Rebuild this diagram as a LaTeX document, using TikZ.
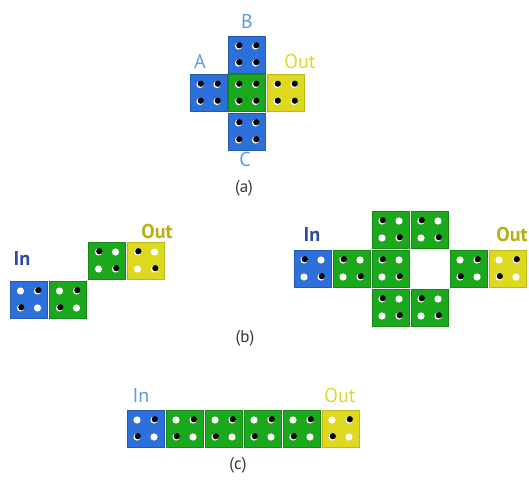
\documentclass[tikz,border=0pt]{standalone}
\usepackage{fontspec}
\setmainfont{PT Sans}
\definecolor{cblue}{RGB}{45,112,218}
\definecolor{cgreen}{RGB}{28,168,28}
\definecolor{cyellow}{RGB}{222,217,32}
\definecolor{lblue}{RGB}{95,155,225}
\definecolor{lyellow}{RGB}{222,215,60}
\definecolor{dblue}{RGB}{45,75,160}
\definecolor{dyellow}{RGB}{185,175,20}
\definecolor{capgray}{RGB}{55,55,55}
\tikzset{
  cell/.style={rectangle, minimum size=37pt, inner sep=0pt, line width=0.6pt},
  bluecell/.style={cell, fill=cblue, draw=cblue!80!black},
  greencell/.style={cell, fill=cgreen, draw=cgreen!80!black},
  yellowcell/.style={cell, fill=cyellow, draw=cyellow!85!black},
  lab/.style={font=\fontsize{20}{22}\selectfont, inner sep=0pt},
  blab/.style={font=\fontsize{20}{22}\selectfont\bfseries, inner sep=0pt},
  captext/.style={font=\fontsize{17}{19}\selectfont, inner sep=0pt, text=capgray},
}
\newcommand\qbdot[2]{\fill[white] (#1,#2) circle (3.6pt); \fill[black] (#1+0.8,#2-0.8) circle (3.1pt);}
\newcommand\qwdot[2]{\fill[white] (#1,#2) circle (3.6pt);}
\newcommand\qcaall[1]{\begin{scope}[shift={(#1.center)}]\qbdot{-8.5}{-8.5}\qbdot{8.5}{-8.5}\qbdot{-8.5}{8.5}\qbdot{8.5}{8.5}\end{scope}}
\newcommand\qcamain[1]{\begin{scope}[shift={(#1.center)}]\qbdot{-8.5}{-8.5}\qwdot{8.5}{-8.5}\qwdot{-8.5}{8.5}\qbdot{8.5}{8.5}\end{scope}}
\newcommand\qcaanti[1]{\begin{scope}[shift={(#1.center)}]\qwdot{-8.5}{-8.5}\qbdot{8.5}{-8.5}\qbdot{-8.5}{8.5}\qwdot{8.5}{8.5}\end{scope}}
\begin{document}
\begin{tikzpicture}[x=1pt,y=-1pt]
\useasboundingbox (0,0) rectangle (529,486);
% (a) majority gate
\node[bluecell] (aA) at (208.5,93) {};
\node[greencell] (aG) at (247,93) {};
\node[yellowcell] (aO) at (285.5,93) {};
\node[bluecell] (aB) at (247,54.5) {};
\node[bluecell] (aC) at (247,131.5) {};
\foreach \n in {aA,aG,aO,aB,aC} {\qcaall{\n}}
\node[lab, text=lblue] (labA) at (200,61) {A};
\node[lab, text=lblue] (labB) at (247,22) {B};
\node[lab, text=lblue] (labC) at (245,160) {C};
\node[lab, text=lyellow] (labOa) at (300,62) {Out};
\node[captext] (capa) at (244,188) {(a)};
% (b) left: staircase wire
\node[bluecell] (b1) at (29,299.5) {};
\node[greencell] (b2) at (68,299.5) {};
\node[greencell] (b3) at (107,260.5) {};
\node[yellowcell] (b4) at (146,260.5) {};
\qcaanti{b1}\qcaanti{b2}\qcamain{b3}\qcamain{b4}
\node[blab, text=dblue] (labIb) at (22,258) {In};
\node[blab, text=dyellow] (labOb) at (157,231) {Out};
% (b) right: fan-out / inverter
\node[bluecell] (r1) at (312.5,268.5) {};
\node[greencell] (r2) at (351.5,268.5) {};
\node[greencell] (r3) at (390.5,268.5) {};
\node[greencell] (r4) at (390.5,229.5) {};
\node[greencell] (r5) at (429.5,229.5) {};
\node[greencell] (r6) at (390.5,307.5) {};
\node[greencell] (r7) at (429.5,307.5) {};
\node[greencell] (r8) at (468.5,268.5) {};
\node[yellowcell] (r9) at (507.5,268.5) {};
\foreach \n in {r1,r2,r3,r4,r5,r6,r7} {\qcamain{\n}}
\qcaanti{r8}\qcaanti{r9}
\node[blab, text=dblue] (labIr) at (312,234) {In};
\node[blab, text=dyellow] (labOr) at (512,234) {Out};
\node[captext] (capb) at (245,338) {(b)};
% (c) straight wire
\node[bluecell] (c1) at (145.5,428.5) {};
\node[greencell] (c2) at (184.5,428.5) {};
\node[greencell] (c3) at (223.5,428.5) {};
\node[greencell] (c4) at (262.5,428.5) {};
\node[greencell] (c5) at (301.5,428.5) {};
\node[yellowcell] (c6) at (340.5,428.5) {};
\foreach \n in {c1,c2,c3,c4,c5,c6} {\qcaanti{\n}}
\node[lab, text=lblue] (labIc) at (141,395) {In};
\node[lab, text=lyellow] (labOc) at (340,395) {Out};
\node[captext] (capc) at (238,465) {(c)};
\end{tikzpicture}
\end{document}
